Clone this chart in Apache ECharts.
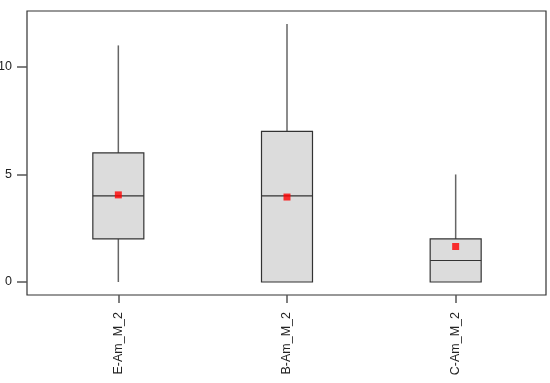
<!DOCTYPE html>
<html>
<head>
<meta charset="utf-8">
<script src="https://cdn.jsdelivr.net/npm/echarts@6/dist/echarts.min.js"></script>
<style>
  html, body { margin: 0; padding: 0; background: #fff; }
  #chart { width: 550px; height: 383px; }
</style>
</head>
<body>
<div id="chart"></div>
<script>
// box stats
const categories = ['E-Am_M_2', 'B-Am_M_2', 'C-Am_M_2'];
const lowWhisker = [0, 0, 0];
const q1 = [2, 0, 0];
const median = [4, 4, 1];
const q3 = [6, 7, 2];
const highWhisker = [11, 12, 5];
const means = [4.05, 3.95, 1.65];
const yTicks = [0, 5, 10];

let boxData = categories.map((c, i) => [i, lowWhisker[i], q1[i], median[i], q3[i], highWhisker[i]]);
let meanData = categories.map((c, i) => [i, means[i]]);

const renderBox = function (params, api) {
    let x = api.value(0);
    let lo = api.coord([x, api.value(1)]);
    let b1 = api.coord([x, api.value(2)]);
    let md = api.coord([x, api.value(3)]);
    let b3 = api.coord([x, api.value(4)]);
    let hi = api.coord([x, api.value(5)]);
    let half = 25.5;
    let cx = lo[0];
    let whisker = { stroke: '#666', lineWidth: 1.5 };
    let children = [];
    if (hi[1] < b3[1]) {
        children.push({ type: 'line', shape: { x1: cx, y1: hi[1], x2: cx, y2: b3[1] }, style: whisker });
    }
    if (lo[1] > b1[1]) {
        children.push({ type: 'line', shape: { x1: cx, y1: b1[1], x2: cx, y2: lo[1] }, style: whisker });
    }
    children.push({
        type: 'rect',
        shape: { x: cx - half, y: b3[1], width: half * 2, height: b1[1] - b3[1] },
        style: { fill: '#dcdcdc', stroke: '#333', lineWidth: 1.2 }
    });
    children.push({
        type: 'line',
        shape: { x1: cx - half, y1: md[1], x2: cx + half, y2: md[1] },
        style: { stroke: '#333', lineWidth: 1.2 }
    });
    return { type: 'group', children: children };
};

let myChart = echarts.init(document.getElementById('chart'));
let option = {
    animation: false,
    textStyle: { fontFamily: 'Liberation Sans, Arial, sans-serif' },
    grid: [
        { left: 27, right: 4, top: 11, bottom: 88, outerBoundsMode: 'none', containLabel: false, show: true, borderColor: '#333', borderWidth: 1.2, backgroundColor: 'transparent' },
        { left: 34, right: 10, top: 11, bottom: 88, outerBoundsMode: 'none', containLabel: false }
    ],
    xAxis: [
        { gridIndex: 0, type: 'value', min: 0, max: 1, show: false },
        {
            gridIndex: 1,
            type: 'category',
            data: categories,
            position: 'bottom',
            axisLine: { show: false, onZero: false },
            axisTick: { show: true, alignWithLabel: true, length: 8, lineStyle: { color: '#555', width: 1.5 } },
            axisLabel: { rotate: 90, margin: 17, fontSize: 12.5, color: '#222' },
            splitLine: { show: false }
        }
    ],
    yAxis: [
        {
            gridIndex: 0,
            type: 'value',
            min: -0.605,
            max: 12.6,
            axisLine: { show: false },
            axisTick: { show: true, length: 10, customValues: yTicks, lineStyle: { color: '#555', width: 1.5 } },
            axisLabel: { customValues: yTicks, margin: 15, fontSize: 12.5, color: '#222' },
            splitLine: { show: false }
        },
        { gridIndex: 1, type: 'value', min: -0.605, max: 12.6, show: false }
    ],
    series: [
        {
            type: 'custom',
            xAxisIndex: 1,
            yAxisIndex: 1,
            renderItem: renderBox,
            encode: { x: 0, y: [1, 2, 3, 4, 5] },
            data: boxData,
            z: 2
        },
        {
            type: 'scatter',
            xAxisIndex: 1,
            yAxisIndex: 1,
            symbol: 'rect',
            symbolSize: 7,
            itemStyle: { color: '#ff0000' },
            data: meanData,
            z: 3
        }
    ]
};
myChart.setOption(option);
</script>
</body>
</html>
